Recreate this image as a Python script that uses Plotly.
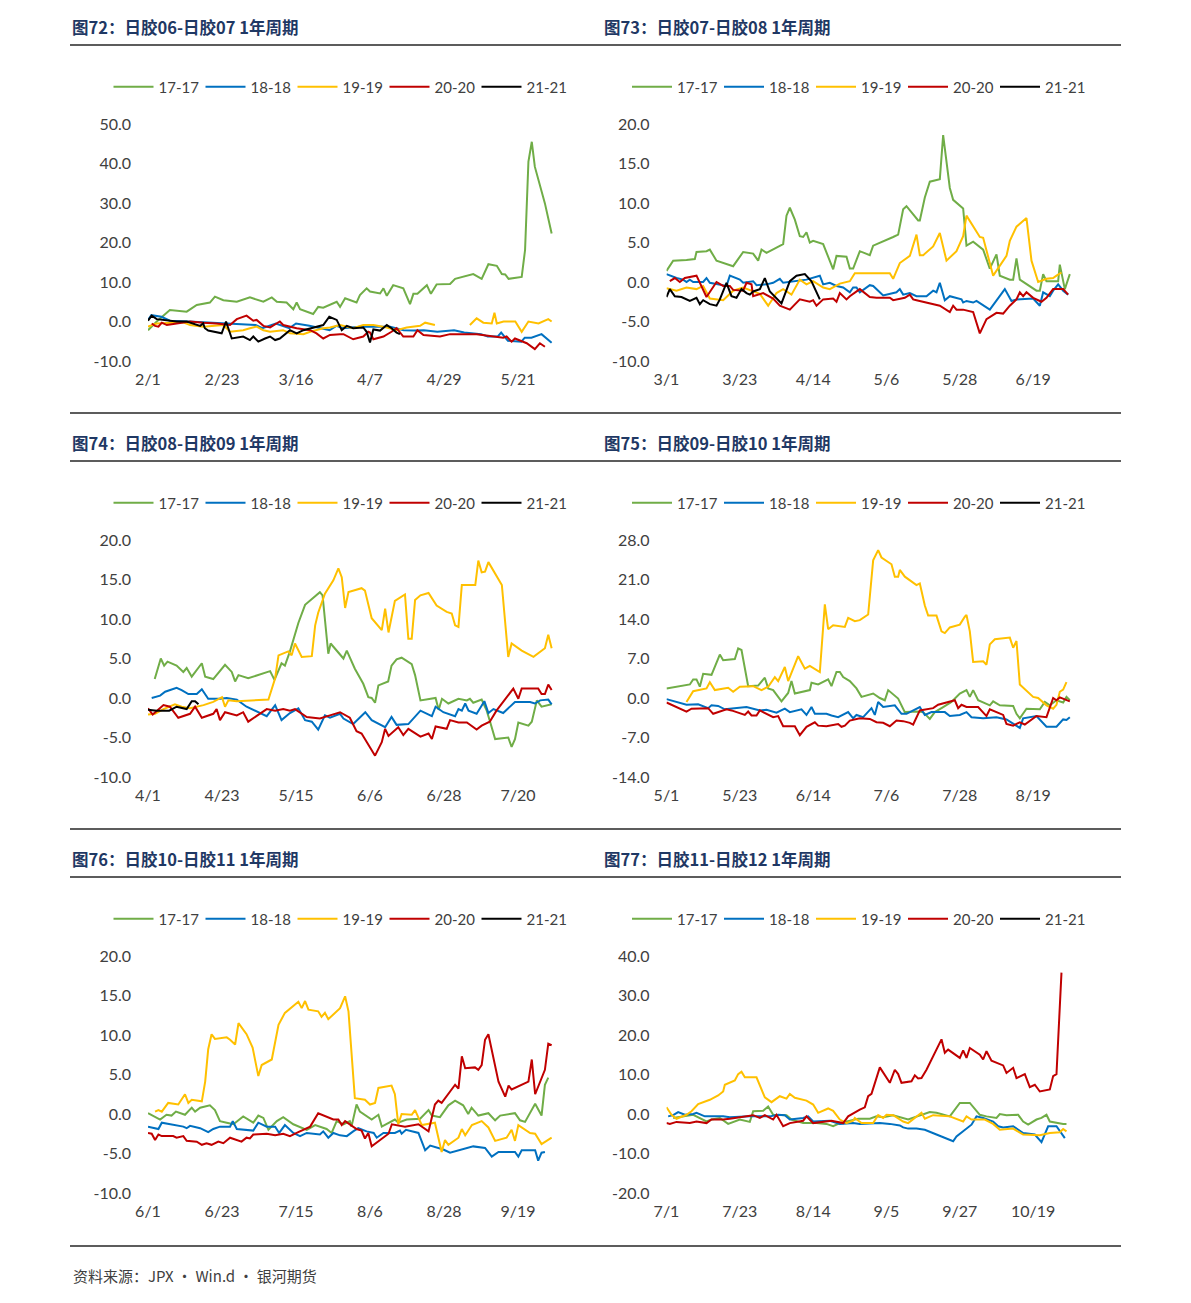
import plotly.graph_objects as go

W, H = 1191, 1303
FONT = "Lato, 'Noto Sans', sans-serif"
CJK = "'Noto Sans CJK SC', sans-serif"
TXT = "#404040"

SERIES_NAMES = ["17-17", "18-18", "19-19", "20-20", "21-21"]
COLORS = ["#70AD47", "#0070C0", "#FFC000", "#C00000", "#000000"]

TITLES = ["图72：日胶06-日胶07 1年周期", "图73：日胶07-日胶08 1年周期",
          "图74：日胶08-日胶09 1年周期", "图75：日胶09-日胶10 1年周期",
          "图76：日胶10-日胶11 1年周期", "图77：日胶11-日胶12 1年周期"]
XTICK_LABELS = [["2/1", "2/23", "3/16", "4/7", "4/29", "5/21"],
                ["3/1", "3/23", "4/14", "5/6", "5/28", "6/19"],
                ["4/1", "4/23", "5/15", "6/6", "6/28", "7/20"],
                ["5/1", "5/23", "6/14", "7/6", "7/28", "8/19"],
                ["6/1", "6/23", "7/15", "8/6", "8/28", "9/19"],
                ["7/1", "7/23", "8/14", "9/5", "9/27", "10/19"]]
XTICK_DAYS = [0, 22, 44, 66, 88, 110]
YTICKS = [[-10, 0, 10, 20, 30, 40, 50],
          [-10, -5, 0, 5, 10, 15, 20],
          [-10, -5, 0, 5, 10, 15, 20],
          [-14, -7, 0, 7, 14, 21, 28],
          [-10, -5, 0, 5, 10, 15, 20],
          [-20, -10, 0, 10, 20, 30, 40]]
SOURCE = "资料来源：JPX · Win.d · 银河期货"

# ---- data: (day offset from first tick date, spread value) ----
P1_17 = [(0,-2.2),(2.6,0),(6.5,2.9),(11.5,2.5),(14.5,4.2),(18.4,4.8),(19.9,6.3),(22.4,5.4),(26.4,5.0),(30.3,6.1),(34.3,5.0),(36.8,6.1),(38.3,5.0),(41.2,4.8),(43.2,3.1),(44.2,4.8),(45.2,3.1),(49.1,1.9),(50.6,3.7),(52.1,3.5),(56.1,5.0),(57.1,3.7),(58.6,5.9),(62,4.8),(63,6.7),(65,8.4),(66,7.6),(69,7.1),(70,8.4),(71,6.5),(72.9,9.2),(75.9,8.4),(77.9,4.4),(78.9,7.0),(80.1,7.0),(82.9,9.2),(84.1,7.0),(85.8,9.4),(89.8,9.5),(91.3,10.8),(96.7,12.0),(99.2,10.8),(101.2,14.5),(103.7,14.1),(105.2,12.0),(106.2,11.9),(107.2,10.8),(111.1,11.3),(112.1,18.1),(113.1,40.5),(114.1,45.5),(115,39.2),(118,29.9),(120,22.3)]
P1_18 = [(0,0.4),(1,1.6),(4,1.2),(6.5,0.2),(12,0),(18,-0.3),(24,-0.5),(32,-0.9),(34,-1.7),(38,-0.5),(42,-1.7),(44,-0.5),(48,-1.1),(54,-2.2),(56,-1.1),(58,-1.7),(63,-1.3),(72,-1.3),(76,-2.2),(79,-2.3),(82,-2.2),(86,-2.6),(91,-2.2),(94,-2.8),(99,-3.2),(101,-3.8),(104,-3.8),(105,-2.8),(107,-4.9),(111,-5.1),(112,-4.1),(114,-4.1),(117,-3.2),(120,-5.4)]
P1_19 = [(0,-1.3),(2.6,-0.5),(10.5,-0.2),(12.5,-0.9),(16.4,-1.3),(22.4,-0.9),(24.4,-2.6),(28.3,-2.2),(30.3,-1.7),(32.3,-1.3),(34.3,-2.2),(36.3,-2.6),(40.2,-2.2),(42.2,-3.0),(46.2,-3.2),(48.2,-2.6),(52.1,-1.7),(54.1,-1.5),(57.1,-0.9),(61,-1.7),(64,-0.9),(67,-0.9),(71,-1.5),(73.9,-2.2),(76.9,-1.5),(80.9,-1.1),(82.4,-0.3),(85.3,-0.9),(90,None),(95.7,-0.9),(97.7,0.8),(99.7,-0.3),(102.2,-0.5),(103,2.2),(103.7,-0.5),(105.7,0),(109.2,0),(111.1,-2.6),(113.1,0),(116.1,-0.5),(119,0.6),(120,0)]
P1_20 = [(1.1,-0.5),(2.1,-1.1),(3.1,-1.3),(4.1,-0.3),(5.6,-0.9),(8.5,-0.5),(12.5,0),(16.4,-0.3),(20.4,-0.5),(24.4,-0.9),(26.4,0.6),(29.3,1.5),(30.3,0.8),(31.3,0.2),(32.3,0.4),(34.3,-1.1),(36.3,-1.5),(38.3,-0.5),(39.2,0),(40.2,-0.9),(44.2,-1.7),(48.2,-2.2),(50.1,-3.0),(52.1,-4.3),(54.1,-3.4),(57.1,-3.2),(58.1,-3.2),(61,-4.5),(64,-3.8),(65.5,-2.6),(66,-2.8),(67,-4.5),(70,-3.8),(72.4,-2.6),(73.9,-1.7),(75.9,-3.8),(78.9,-3.8),(80.1,-2.2),(81.9,-3.4),(86.8,-3.8),(89.8,-3.2),(97.7,-3.2),(101.6,-3.7),(103.6,-3.8),(105.6,-4.1),(106.6,-3.8),(108.1,-5.1),(109.1,-4.3),(112.6,-5.5),(115,-7.0),(116.5,-5.5),(118,-6.4)]
P1_21 = [(0,0.2),(1.1,1.5),(2.6,0.6),(5.6,0.2),(8.5,0),(11.5,0),(13.5,-0.5),(15.5,-1.1),(16.4,-0.5),(16.9,-1.7),(17.9,-2.3),(20.4,-2.8),(21.9,-3.0),(23.2,0),(24.9,-4.3),(28.3,-3.8),(30.3,-4.7),(31.3,-3.8),(32.8,-5.1),(34.8,-4.3),(36.3,-3.8),(37.8,-4.7),(39.2,-4.3),(42.2,-2.2),(44.2,-3.0),(46.2,-2.2),(48.2,-1.7),(52.1,-0.9),(53.9,1.2),(56.1,0.4),(57.6,-2.2),(59.1,-1.1),(61,-1.7),(64,-1.5),(65,-2.6),(66,-5.3),(67,-2.0),(69,-2.3),(71,-0.9),(72.4,-1.7),(73.9,-2.8),(74.9,-3.2)]

P2_17 = [(0,1.4),(2,2.7),(6,2.8),(8.5,2.9),(9,3.8),(12,3.9),(13,4.1),(15,2.7),(20,2.0),(23,3.8),(26,3.6),(27.5,2.7),(28.5,4.1),(30,3.7),(35,4.8),(36,8.4),(37,9.4),(38.5,7.9),(40,5.8),(41,5.7),(42,6.3),(43,5.0),(44,5.2),(47,4.8),(50,1.6),(51,3.3),(54,3.2),(55,1.7),(56,1.7),(58,3.9),(61,3.4),(62,4.6),(68,5.7),(69.5,6.0),(71,9.2),(72,9.6),(75.5,7.8),(76,7.8),(77.5,10.7),(79,12.7),(82,13.0),(83,18.6),(85,11.9),(86,10.4),(89,9.3),(90,4.6),(92,5.1),(95,4.1),(97,1.7),(99,3.5),(100,0.8),(103,0.3),(104,0.3),(105,3.0),(106,0.3),(111,-1.1),(112,-1.1),(113,1.0),(114,0.1),(117.5,0.1),(118,2.2),(119.5,-0.9),(121,1.0)]
P2_18 = [(0,1.0),(3,0.5),(5,0.3),(6,0),(7,0.3),(8,0),(11,0),(12,0.5),(13,-0.1),(16,-0.3),(18,-0.5),(19,0.8),(22,0.3),(23,-0.1),(26,0.1),(27,-0.4),(30,-0.3),(32,-0.1),(34,0.4),(35,-0.1),(39,0.1),(42,0.3),(46,0.8),(47,-0.3),(49,-0.1),(51,-0.5),(53,-0.7),(55,-1.3),(56,-0.7),(57,-0.7),(58,-1.3),(61,-0.4),(62,-0.5),(65,-1.7),(69,-1.3),(70,-0.9),(71,-1.6),(73,-1.4),(75,-1.8),(78,-1.8),(80,-1.1),(81,-1.3),(82,-0.1),(83.5,-2.3),(85,-1.8),(87,-2.0),(88.5,-2.2),(89,-2.6),(90,-2.4),(92,-2.6),(93,-2.4),(97,-3.5),(99,-2.4),(101.5,-0.9),(103.5,-2.4),(105,-2.2),(110,-2.1),(112,-3.0),(113,-1.3),(115,-1.8),(116,-1.1),(117.5,-0.3),(119,-1.1),(120.5,-1.6)]
P2_19 = [(0,-0.8),(3,-1.1),(6,-0.7),(9,-0.9),(11,-0.5),(13,-2.1),(17,-2.3),(20,-1.1),(23,-0.7),(28,-1.5),(30.5,-3.0),(33,-1.4),(35,-0.9),(37.5,-1.6),(40,0.3),(42,-0.3),(44,0.1),(47,-0.7),(49,-0.9),(52,-0.2),(55,0.1),(56.5,1.1),(67,1.1),(68,0.4),(70,2.4),(73,3.3),(75,6.0),(76,3.4),(77,3.4),(80,4.5),(82,6.2),(84,2.7),(87,3.9),(89,5.8),(90,8.4),(94,5.7),(95,5.6),(96,4.1),(98,0.8),(102,3.3),(103,5.2),(105,7.0),(108,8.1),(109.5,2.7),(111.5,0.0),(114,0.4),(116,0.5),(117,0.8),(118.5,1.2)]
P2_20 = [(1,0.1),(2.5,0.5),(4,0),(5.5,0.5),(9,0.8),(12,-1.9),(15,0),(17,-0.5),(19,-0.5),(20,-1.0),(23,-1.1),(24,-0.1),(25.5,-0.3),(26,-1.8),(29,-1.4),(32,-2.1),(34,-3.0),(37,-3.5),(40,-2.2),(43,-2.5),(44,-2.3),(45,-3.0),(47,-2.2),(50,-2.1),(51,-2.5),(52,-1.4),(54,-2.2),(55,-1.8),(58,-0.9),(61,-1.9),(63,-2.0),(67,-2.0),(68,-2.3),(71.5,-2.0),(73,-1.6),(74,-2.2),(75,-2.3),(80,-2.8),(82,-3.0),(85,-3.8),(86,-3.0),(87,-3.5),(89,-3.5),(92,-3.8),(94,-6.5),(96,-4.7),(99,-3.9),(101,-4.0),(103,-3.0),(105,-2.2),(106,-1.3),(107,-1.8),(108,-1.3),(110,-2.0),(112.5,-2.5),(114,-2.0),(116,-0.9),(117.5,-0.9),(119,-0.9),(120.5,-1.6)]
P2_21 = [(0,-1.9),(1,-0.9),(2.5,-1.8),(4.5,-1.9),(7,-2.4),(9,-2.0),(10,-2.8),(11,-2.3),(13,-2.8),(15,-3.0),(16,-2.2),(18,-0.1),(19.5,-1.8),(21,-2.0),(22.5,-0.9),(24,-1.4),(25,-1.6),(26,-1.2),(28,-0.9),(29.5,0.5),(31,-1.2),(33,-2.1),(34.5,-2.7),(37,0.1),(39,0.8),(41.5,1.0),(43.5,0.1),(46,-2.2)]

P3_17 = [(2,2.4),(3.8,5.0),(4.8,4.1),(5.8,4.6),(8.5,4.1),(10.5,3.3),(11.5,3.8),(13,2.7),(16,4.4),(17,2.7),(19.4,2.4),(22.9,4.2),(24.9,3.3),(25.9,2.1),(26.9,2.9),(29.8,2.5),(36.3,3.4),(37.6,2.3),(39.7,4.4),(40.7,4.1),(42.2,5.9),(44.7,9.5),(46.7,11.8),(51.1,13.4),(51.9,13.0),(53.6,5.6),(54.3,6.9),(58.1,5.0),(59.1,6.0),(61.5,3.7),(64,1.8),(65.5,0.1),(66.5,0),(67.5,-0.6),(68.5,1.6),(71.4,2.1),(72.4,4.1),(73.9,4.9),(75.4,5.1),(78.4,4.3),(79.4,2.9),(81,-0.3),(85.5,0),(86.4,-1.5),(87.4,-0.1),(89.3,-0.7),(92.3,-0.1),(94.8,-0.3),(95.7,-0.1),(96.7,-0.6),(99.2,-0.2),(100.7,-1.6),(101.7,-3.0),(103.2,-5.2),(107.1,-5.0),(108.1,-6.2),(109.1,-5.2),(110.1,-3.1),(113.1,-3.5),(114.1,-3.0),(115.6,-0.3),(117,-1.1),(120,-0.8)]
P3_18 = [(1.1,0),(3.6,0.3),(5.1,0.8),(8.5,1.3),(10,1.0),(12,0.5),(14.5,0.5),(16,1.1),(17.9,-0.1),(21.4,-0.1),(23.4,0),(26.4,-0.2),(29.3,-1.1),(35.3,-2.3),(37.8,-0.9),(39.7,-2.8),(42.2,-1.9),(44.7,-1.3),(46.7,-2.8),(48.7,-3.0),(50.6,-4.0),(52.6,-2.2),(54.1,-2.5),(57.1,-2.0),(58.1,-2.6),(61,-3.3),(64.6,-1.8),(66.5,-2.8),(70.5,-3.7),(72.4,-2.4),(73.9,-3.4),(77.4,-3.3),(81,-1.6),(84.4,-2.3),(85.5,-1.1),(87.8,-1.8),(91.3,-2.3),(92.3,-1.4),(93.3,-1.6),(94.3,-0.7),(95.3,-1.6),(97.7,-2.0),(100,-0.4),(101.2,-1.9),(102.7,-1.4),(105.6,-1.9),(109.1,-0.5),(113.6,-0.5),(115,-0.7),(116.6,-0.3),(119,-0.2),(120,-0.8)]
P3_19 = [(0,-2.1),(2.1,-2.0),(4.6,-1.4),(8,-0.8),(10,-1.1),(12.5,-1.3),(16.5,-0.9),(19.4,-0.5),(22,0.1),(22.9,-1.1),(23.9,-0.3),(26.4,-0.4),(35.8,-0.2),(37.8,2.5),(38.8,5.4),(41.7,5.9),(42.7,5.4),(43.7,6.9),(45.7,5.2),(48.7,5.3),(49.7,9.2),(50.6,10.8),(52.6,13.2),(55.1,14.9),(56.6,16.4),(57.6,15.3),(58.6,11.4),(59.6,13.4),(63.5,13.9),(64.5,13.6),(66.5,10.1),(69.5,8.6),(70.5,11.3),(71.5,8.3),(73.4,12.3),(76.4,13.1),(77.4,7.5),(78.4,7.5),(79.4,12.4),(81,13.0),(83.4,13.3),(85.8,11.7),(88.8,10.9),(90.3,10.7),(91.3,9.2),(92.3,9.0),(93.3,14.3),(97.3,14.3),(98.2,17.4),(99.2,15.9),(100.2,16.0),(101.2,17.2),(105.2,14.3),(107.1,5.2),(108.1,6.9),(111.1,6.0),(114.6,5.2),(118,6.3),(119,8.0),(120,6.3)]
P3_20 = [(0,-1.3),(1.4,-2.1),(4.6,-0.9),(6.5,-1.1),(9,-2.5),(12.5,-2.0),(14,-1.1),(16,-2.5),(19.4,-2.0),(20.4,-1.4),(21.4,-2.8),(22.9,-1.8),(26.4,-2.2),(28.3,-1.8),(29.8,-3.0),(35.3,-1.4),(37.8,-1.6),(40.2,-1.4),(42.2,-1.6),(43.7,-1.4),(47.2,-2.4),(51.1,-2.6),(54.1,-2.2),(57.1,-1.8),(60,-2.5),(62,-4.2),(63.5,-4.5),(67.5,-7.3),(69.5,-5.6),(70.5,-3.9),(71.5,-4.8),(74.4,-3.7),(75.9,-4.7),(77.4,-3.9),(81,-4.9),(83.4,-4.5),(84.4,-5.2),(85.5,-3.6),(88.8,-3.9),(89.8,-2.8),(92.3,-3.1),(94.8,-3.1),(97.7,-4.0),(99.2,-3.5),(101.6,-3.0),(103.6,-1.6),(108.6,1.2),(110.1,-0.1),(111.1,1.2),(116,1.2),(117,0.5),(118,0.5),(119,1.7),(120,1.0)]
P3_21 = [(0,-1.5),(2.6,-1.6),(6.3,-1.6),(8.5,-1.1),(11.5,-1.4),(13,-0.4),(14,-0.4),(15,-0.8)]

P4_17 = [(0,1.7),(7,2.4),(8,3.3),(9,3.3),(10,2.0),(11,4.3),(13.5,4.1),(16,7.7),(17,6.7),(20.5,6.9),(21.5,8.8),(22.5,8.5),(24.5,2.1),(27.5,2.2),(29.5,3.6),(30.5,1.7),(32,1.4),(34.5,-0.6),(36.5,0.9),(37.5,3.0),(38.5,0.8),(41,1.1),(43,1.4),(43.5,2.7),(45.5,2.4),(48.5,3.3),(49.5,2.1),(51,4.6),(52,4.6),(53,3.7),(55,3.0),(57,1.7),(58.5,0.2),(62,0.8),(64,0),(65.5,-0.4),(66.5,1.4),(69.5,-0.1),(71.5,-2.5),(75,-2.4),(77,-2.5),(79,-3.7),(80.5,-2.5),(83,-1.6),(85.5,-0.7),(88,0.8),(90,1.4),(91,0.2),(92,1.4),(93.5,-0.4),(97,-1.3),(98,-0.6),(100,-1.3),(104,-1.4),(105,-2.8),(106,-3.6),(108,-1.9),(112,-2.0),(113.5,-0.7),(115,-1.3),(117,-0.4),(119,-0.8),(120,0.2),(121,-0.4)]
P4_18 = [(0,-0.2),(6,-1.2),(9.5,-1.1),(12.5,-1.8),(13.5,-1.3),(15.5,-1.4),(17.5,-2.0),(22,-1.8),(24,-1.6),(28,-2.2),(30,-2.1),(33,-2.6),(35.5,-1.9),(37,-2.5),(40.5,-2.0),(42,-3.0),(43.5,-1.6),(44.5,-2.8),(48,-2.8),(49.5,-3.1),(51.5,-3.4),(54.5,-2.5),(56,-3.6),(57,-3.0),(59,-3.4),(61.5,-1.8),(62.5,-3.0),(63.5,-0.7),(65,-1.6),(68.5,-1.3),(70.5,-2.8),(72,-2.8),(76,-1.6),(77.5,-3.0),(79.5,-2.5),(83.5,-2.5),(85,-3.2),(88,-3.0),(90,-2.5),(91.5,-3.4),(95,-3.6),(99,-3.4),(102,-3.8),(106,-5.3),(107,-3.6),(111,-3.2),(114,-5.1),(117,-5.1),(119,-3.8),(120,-3.9),(121,-3.4)]
P4_19 = [(6,-0.7),(8,1.2),(12,1.7),(13,2.8),(14.5,1.4),(18.5,1.8),(20,1.1),(22,2.0),(26,2.1),(28.5,1.4),(30.5,2.0),(32.5,3.7),(33.5,3.0),(35.5,5.5),(36.5,3.0),(39.5,7.4),(41.5,5.2),(43,5.7),(46,4.6),(47.5,16.6),(48.5,12.2),(50,12.9),(53.5,12.6),(54.5,14.2),(56.5,13.6),(58,13.8),(60.5,14.8),(62,24.4),(63.5,26.2),(64.5,24.9),(67.5,23.7),(68.5,21.5),(69.5,21.5),(70,22.7),(71.5,21.5),(75,20.0),(76,20.3),(77.5,16.4),(78.5,14.6),(81,14.6),(82.5,11.8),(83.5,11.5),(85,12.5),(88,13.0),(89.5,14.4),(90,14.7),(91,11.8),(92,6.4),(95,6.5),(96,5.9),(97,9.5),(98.5,10.4),(103,10.7),(104,8.9),(105,10.1),(106,2.4),(110,0.2),(111.5,0),(114,-1.3),(116,-1.9),(117,-1.2),(118,1.1),(119,1.5),(120,2.8)]
P4_20 = [(0,-0.8),(6,-2.4),(7.5,-1.9),(11,-1.9),(12.5,-1.8),(14,-2.8),(18,-2.0),(19.5,-2.2),(23.5,-3.0),(24.5,-2.4),(25.5,-3.1),(27,-3.1),(28,-2.2),(32,-3.4),(33.5,-3.2),(35,-5.0),(38.5,-5.0),(40,-6.6),(42,-5.1),(44.5,-4.3),(45.5,-4.9),(48,-5.0),(51.5,-4.6),(52.5,-5.1),(53.5,-4.9),(55,-4.0),(58,-3.6),(61,-3.7),(63,-4.3),(65,-4.4),(67,-5.0),(69,-4.0),(71,-4.1),(73,-4.4),(74,-4.7),(76,-2.2),(80,-1.8),(81.5,-1.2),(84,-0.8),(86.5,-0.4),(87.5,-1.8),(88.5,-1.2),(90,-1.6),(93.5,-1.6),(96,-3.2),(97,-2.0),(101,-3.0),(102,-4.6),(104,-4.9),(106,-4.3),(107.5,-4.7),(111,-3.2),(114,-3.4),(116,0),(117,-0.4),(118,0.1),(121,-0.6)]
P4_21 = []

P5_17 = [(0,0.1),(3.6,-0.7),(5.5,-0.1),(7,-0.2),(8.3,0.3),(11,-0.1),(13,0.8),(14,0.3),(15.5,0.8),(18.4,1.1),(19.9,0.5),(21.4,-0.9),(23.4,-1.1),(25.4,-1.3),(28.3,-0.3),(31.3,-1.1),(32.8,-0.2),(34.3,-0.5),(35.8,-2.0),(38.3,-0.9),(40.2,-0.4),(41.2,-0.7),(43.2,-1.3),(47.2,-2.0),(49.7,-1.4),(53.1,-1.9),(54.6,-2.4),(56.1,-0.9),(58.1,-1.3),(60,-0.9),(60.5,-1.6),(62,1.2),(63,0.3),(66.5,-0.7),(68.5,-0.1),(69.5,-1.6),(73.4,-0.7),(74.4,-1.1),(76.9,-0.7),(80.9,-0.6),(83.4,0.5),(84.4,-0.2),(86.8,-0.4),(89.3,1.1),(91.3,1.7),(93.7,1.1),(95.2,0),(96.2,0.8),(98.2,-0.2),(101.2,0.1),(103.2,-0.8),(104.7,-0.2),(109.1,0.1),(110.6,-0.8),(112.1,-1.0),(115.1,1.3),(117,-0.2),(118,3.7),(119,4.6)]
P5_18 = [(0,-1.6),(3.1,-1.9),(4.1,-1.1),(7.5,-1.4),(10.5,-1.6),(11.5,-1.8),(12.5,-1.5),(15.5,-1.8),(17.9,-2.3),(19.4,-1.9),(21.4,-1.6),(24.4,-1.6),(25.2,-0.9),(26.4,-1.9),(31.3,-2.1),(32.8,-1.1),(35.3,-1.6),(37.8,-1.6),(39,-2.4),(40.7,-1.4),(43.2,-2.4),(45.2,-2.8),(47.2,-2.4),(51.1,-2.6),(52.1,-2.2),(53.6,-3.0),(55.1,-2.4),(57.1,-2.7),(59.1,-2.8),(61,-2.2),(62.5,-1.8),(65,-2.2),(67.1,-2.4),(68,-3.0),(70,-2.4),(73.4,-2.4),(74.9,-2.1),(75.4,-2.5),(76.7,-2.0),(80.4,-2.4),(82.4,-4.6),(83.9,-4.0),(87.8,-4.5),(89.8,-4.9),(96.7,-4.1),(100.2,-4.3),(102.2,-5.4),(104.2,-4.8),(109.1,-4.8),(110.1,-5.4),(111.1,-4.6),(115.1,-4.6),(116,-5.9),(117,-4.9),(118,-4.8)]
P5_19 = [(2.1,0.3),(3.1,0.5),(4.1,0.3),(6,1.4),(9,1.2),(11,2.5),(12,1.4),(13,1.8),(16,1.6),(17,4.1),(17.9,8.2),(18.9,10.1),(19.9,9.5),(23.4,9.7),(24.4,9.4),(25.9,8.8),(26.9,11.5),(29.3,10.1),(31.1,8.4),(32.8,4.8),(33.8,6.2),(36.8,6.9),(38.8,11.3),(40.7,12.8),(44.7,14.2),(45.7,13.4),(46.7,14.3),(47.7,13.2),(50.6,13.0),(51.6,12.3),(52.6,12.8),(53.6,12.0),(57.1,13.4),(58.6,14.9),(59.6,13.0),(61.5,2.0),(64.5,1.8),(66,1.2),(67.5,1.4),(68.5,3.3),(72.4,3.6),(73.4,2.5),(74.4,-1.3),(75.4,0),(78.4,-0.1),(79.4,0.5),(81.4,-1.4),(85.3,-1.1),(87.3,-4.8),(88.3,-3.3),(89.3,-3.9),(92.3,-3.0),(93.3,-1.9),(94.3,-2.7),(96.3,-1.4),(99.2,-0.9),(101.2,-1.7),(103.2,-3.4),(106.6,-3.0),(108.1,-2.0),(109.1,-3.4),(110.1,-1.4),(113.6,-2.4),(115.1,-2.5),(117,-3.8),(120,-3.0)]
P5_20 = [(0,-2.4),(1.1,-2.5),(2.1,-3.3),(3.1,-2.6),(4.1,-2.8),(7.5,-2.8),(8.5,-3.0),(10.5,-2.8),(11.5,-3.4),(14.5,-3.5),(16,-3.9),(17.4,-3.7),(18.9,-3.9),(20.9,-3.5),(22.4,-3.7),(24.4,-3.0),(27.8,-3.5),(29.3,-3.0),(30.3,-3.1),(31.3,-2.6),(35.3,-2.5),(37.8,-2.7),(40.2,-2.5),(42.2,-2.8),(44.2,-2.4),(45.7,-2.1),(48.2,-1.6),(50.6,0.1),(53.6,-0.4),(55.1,-0.7),(56.6,-0.7),(57.6,-1.4),(58.6,-0.9),(62,-1.9),(63.5,-2.1),(64.5,-3.1),(65.5,-2.4),(66.5,-4.1),(71.5,-2.5),(72.5,-1.3),(76.4,-1.6),(80.4,-1.3),(83.4,-2.2),(85.3,1.2),(86.3,1.7),(87.3,1.4),(91.3,3.7),(92.3,3.2),(93.3,7.3),(94.3,5.8),(97.2,5.9),(98.2,5.6),(99.2,6.2),(100.2,9.4),(101.2,10.1),(104.2,4.1),(106.2,2.2),(107.2,3.6),(108.1,3.1),(113.1,4.1),(114.1,6.9),(115.1,2.5),(118,5.6),(119,8.9),(120,8.7)]
P5_21 = []

P6_17 = [(2,-1.0),(5,-0.6),(8,-0.2),(12,-1.9),(13.5,-1.4),(16,-1.0),(18.5,-2.5),(22,-1.4),(25,-2.0),(26,0.7),(29,0.8),(30.5,1.9),(32,-0.2),(36,-0.3),(37.5,-1.4),(41,-2.3),(45,-2.3),(48,-2.5),(50,-3.1),(52,-2.3),(55,-1.6),(57.5,-1.2),(61,-1.2),(63,-0.6),(65,-0.8),(68,-0.3),(72.5,-1.4),(75,-0.6),(79,0.5),(81,0.3),(85,-0.6),(88,2.8),(91,2.8),(94,-0.2),(96,-0.6),(99,-1.0),(100,0),(102,-0.3),(105.5,-0.2),(107,-1.9),(108.5,-2.7),(111,-1.4),(112.5,-1.0),(114,-0.2),(115,-1.9),(119,-2.5),(120,-2.5)]
P6_18 = [(0.5,-0.6),(2,-0.3),(3.5,0.5),(5.5,-0.2),(8,0),(9,0.3),(11.5,-0.6),(17,-0.6),(19,-0.8),(25,-0.6),(31,-0.6),(33.5,-0.2),(35.5,-0.3),(37,-1.4),(41,-1.0),(42.5,-0.6),(44,-1.9),(49,-1.7),(52,-2.5),(56,-2.3),(58,-2.5),(64,-2.3),(67,-2.5),(70,-2.9),(71,-3.4),(72.5,-3.7),(75,-3.7),(77.5,-4.0),(81,-5.2),(84,-6.1),(86,-6.9),(87,-5.7),(91.5,-2.7),(93,-0.6),(95,-1.0),(98,-1.9),(99.5,-3.1),(101,-3.4),(104,-3.1),(107,-4.8),(110.5,-5.2),(112.5,-7.1),(114.5,-3.1),(117,-3.1),(118.5,-5.1),(119.5,-6.1)]
P6_19 = [(0,1.7),(1.5,-0.2),(3,-1.2),(6,-0.2),(7.5,0.7),(9.5,2.5),(13,3.6),(15.5,4.7),(17,5.7),(17.5,7.4),(20.5,8.5),(21.5,10.1),(22.5,10.7),(23.5,9.3),(27,9.3),(29.5,4.2),(31.5,3.0),(34,4.5),(36,3.9),(37,5.1),(38.5,4.1),(42,3.4),(44,2.4),(45.5,0.3),(48.5,1.4),(50,0.8),(52,-1.4),(54,-2.3),(56,-1.7),(56.5,-1.0),(58.5,-2.3),(62,-2.3),(63.5,-0.3),(65,-1.0),(66,-0.2),(68,-0.3),(71,-1.9),(72.5,-2.3),(76.5,0.3),(77.5,-1.2),(80,-0.3),(85,-0.6),(89,-1.9),(90,-0.6),(91.5,-1.4),(95.5,-1.4),(98,-2.5),(100,-4.0),(104,-3.7),(107,-5.2),(112,-5.4),(115,-4.8),(118,-4.6),(119,-3.8),(120,-4.4)]
P6_20 = [(0,-2.3),(1,-2.5),(3,-2.0),(7,-2.3),(9,-1.9),(12,-2.3),(13.5,-1.4),(17,-1.4),(19,-1.2),(23,-0.6),(26,-0.3),(28,-1.0),(29.5,-0.3),(32,-1.4),(33,-0.2),(35,-3.1),(37,-2.3),(41,-1.7),(42,-0.6),(44,-2.3),(48,-1.9),(49.5,-1.7),(53,-2.3),(54.5,-0.6),(58,1.1),(59.5,1.7),(60.5,4.5),(61.5,5.1),(64,11.8),(67,7.9),(68.5,11.2),(69.5,10.1),(70.5,7.9),(73.5,8.3),(74.5,9.8),(75.5,9.0),(76.5,9.1),(78,11.2),(82.5,18.9),(83.5,15.5),(84.5,16.3),(88,14.2),(89,16.1),(90,14.2),(91,16.7),(94,15.0),(95,13.8),(96,15.9),(97.5,13.5),(99,12.9),(101,12.3),(102,10.4),(104,11.7),(105,9.1),(107.5,10.1),(109,6.8),(110.5,7.4),(112,5.7),(115,6.2),(116,9.6),(117,10.1),(118.5,35.8)]
P6_21 = []

PANELS = [[P1_17, P1_18, P1_19, P1_20, P1_21],
          [P2_17, P2_18, P2_19, P2_20, P2_21],
          [P3_17, P3_18, P3_19, P3_20, P3_21],
          [P4_17, P4_18, P4_19, P4_20, P4_21],
          [P5_17, P5_18, P5_19, P5_20, P5_21],
          [P6_17, P6_18, P6_19, P6_20, P6_21]]

# ---- layout geometry (pixels) ----
COL_X0 = [148, 666.5]
COL_PPD = [74 / 22, 73.33 / 22]
XMAX = 122
ROW_TOP = [124, 540, 956]
ROW_BOT = [361, 777, 1193]
LEG_X = [108.5, 627]
LEG_Y = [87, 503, 919]
TITLE_X = [70, 602]
TITLE_Y = [27, 443, 859]
RULES = [45, 413, 461, 829, 877, 1246]

fig = go.Figure()
layout = dict(width=W, height=H,
              margin=dict(l=0, r=0, t=0, b=0, pad=0, autoexpand=False),
              paper_bgcolor="white", plot_bgcolor="white", showlegend=True,
              annotations=[], shapes=[])

for p in range(6):
    row, col = divmod(p, 2)
    sfx = "" if p == 0 else str(p + 1)
    x0 = COL_X0[col]
    x1 = x0 + XMAX * COL_PPD[col]
    yt = YTICKS[p]
    layout["xaxis" + sfx] = dict(
        domain=[x0 / W, x1 / W], range=[0, XMAX], anchor="y" + sfx,
        showgrid=False, zeroline=False, showline=False, ticks="",
        tickmode="array", tickvals=XTICK_DAYS, ticktext=XTICK_LABELS[p],
        tickfont=dict(family=FONT, size=16, color=TXT), ticklabelstandoff=7,
        automargin=False, fixedrange=True)
    layout["yaxis" + sfx] = dict(
        domain=[1 - ROW_BOT[row] / H, 1 - ROW_TOP[row] / H],
        range=[yt[0], yt[-1]], anchor="x" + sfx,
        showgrid=False, zeroline=False, showline=False, ticks="",
        tickmode="array", tickvals=yt, ticktext=["%.1f" % v for v in yt],
        tickfont=dict(family=FONT, size=16, color=TXT), ticklabelstandoff=16,
        automargin=False, fixedrange=True)
    lg = "legend" if p == 0 else "legend" + str(p + 1)
    layout[lg] = dict(orientation="h", x=LEG_X[col] / W, y=1 - LEG_Y[row] / H,
                      xanchor="left", yanchor="middle", itemwidth=40,
                      entrywidth=37, entrywidthmode="pixels",
                      font=dict(family=FONT, size=15, color=TXT),
                      bgcolor="rgba(0,0,0,0)", traceorder="normal")
    for s, pts in enumerate(PANELS[p]):
        xs = [d for d, v in pts] or [None]
        ys = [v for d, v in pts] or [None]
        fig.add_trace(go.Scatter(x=xs, y=ys, mode="lines", name=SERIES_NAMES[s],
                                 line=dict(color=COLORS[s], width=2),
                                 connectgaps=False, xaxis="x" + sfx, yaxis="y" + sfx,
                                 legend=lg, hoverinfo="skip"))
    layout["annotations"].append(dict(
        text="<b>" + TITLES[p] + "</b>", x=TITLE_X[col] / W, y=1 - TITLE_Y[row] / H,
        xref="paper", yref="paper", xanchor="left", yanchor="middle", showarrow=False,
        font=dict(family=CJK, size=16.5, color="#1F3864")))

for ry in RULES:
    layout["shapes"].append(dict(type="line", xref="paper", yref="paper",
                                 x0=70 / W, x1=1121 / W, y0=1 - ry / H, y1=1 - ry / H,
                                 line=dict(color="#262626", width=1.3)))

layout["annotations"].append(dict(
    text=SOURCE, x=71 / W, y=1 - 1275 / H, xref="paper", yref="paper",
    xanchor="left", yanchor="middle", showarrow=False,
    font=dict(family=CJK, size=15, color=TXT)))

fig.update_layout(**layout)
fig.write_html("out.html", config={"displayModeBar": False},
               post_script="document.body.style.margin='0';document.body.style.padding='0';")
